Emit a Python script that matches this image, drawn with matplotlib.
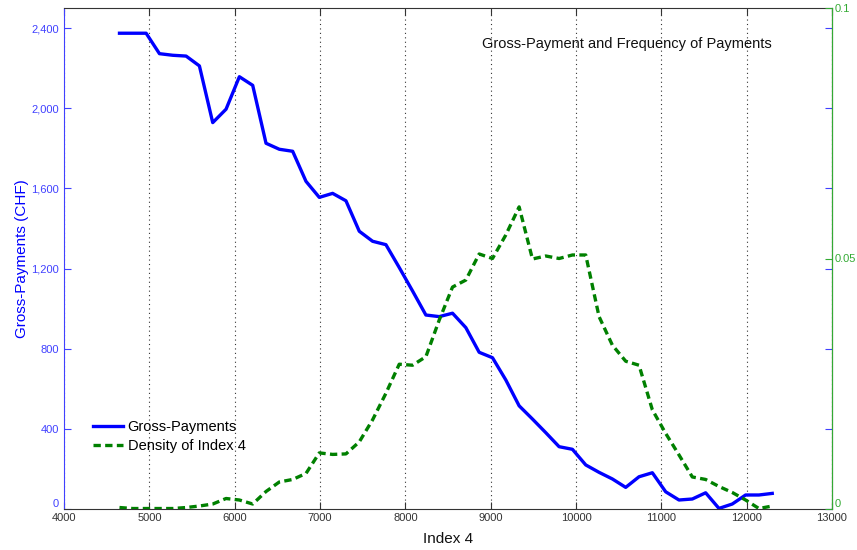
import numpy as np
import matplotlib.pyplot as plt
from matplotlib.ticker import FuncFormatter

# Index 4 values (x), 50 points
index4 = np.linspace(4650, 12300, 50)

gross_payments = [2374, 2374, 2374, 2272, 2264, 2260, 2211, 1928, 1995, 2157,
                  2114, 1825, 1795, 1785, 1635, 1555, 1575, 1538, 1386, 1336,
                  1319, 1205, 1088, 968, 960, 977, 905, 782, 755, 644,
                  515, 449, 381, 311, 298, 220, 183, 150, 108, 161,
                  181, 86, 45, 50, 81, 3, 25, 70, 70, 78]

density = [0.0003, 0.0001, 0.0001, 0.0001, 0.0001, 0.0003, 0.0006, 0.0010, 0.0021, 0.0018,
           0.0010, 0.0035, 0.0054, 0.0059, 0.0071, 0.0112, 0.0109, 0.0110, 0.0134, 0.0178,
           0.0231, 0.0289, 0.0287, 0.0304, 0.0377, 0.0443, 0.0457, 0.0509, 0.0500, 0.0547,
           0.0603, 0.0499, 0.0505, 0.0500, 0.0507, 0.0507, 0.0384, 0.0327, 0.0295, 0.0287,
           0.0198, 0.0151, 0.0108, 0.0064, 0.0059, 0.0045, 0.0033, 0.0018, 0.0001, 0.0006]

x_ticks = np.arange(4000, 13001, 1000)
left_ticks = np.arange(0, 2401, 400)
right_ticks = [0, 0.05, 0.1]

plt.rcParams['font.family'] = ['Liberation Sans', 'DejaVu Sans']

blue = '#0000ff'
green = '#008000'
axis_blue = '#4040ff'
axis_green = '#33aa33'

fig = plt.figure(figsize=(8.57, 5.5), dpi=100)
ax = fig.add_axes([0.0747, 0.0745, 0.8961, 0.911])
ax2 = ax.twinx()

l1, = ax.plot(index4, gross_payments, color=blue, lw=2.4, label='Gross-Payments')
l2, = ax2.plot(index4, density, color=green, lw=2.4, ls=(0, (2.2, 1.3)), label='Density of Index 4')

ax.set_xlim(4000, 13000)
ax.set_ylim(0, 2500)
ax2.set_ylim(0, 0.1)

ax.set_xticks(x_ticks)
ax.set_yticks(left_ticks)
ax2.set_yticks(right_ticks)
ax.yaxis.set_major_formatter(FuncFormatter(lambda v, p: f'{int(v):,}'))
ax2.yaxis.set_major_formatter(FuncFormatter(lambda v, p: '0' if v == 0 else f'{v:g}'))

ax.xaxis.grid(True, linestyle=(0, (1, 3)), color='#333333', lw=0.8)
ax.set_axisbelow(True)

ax.tick_params(axis='x', direction='in', length=5, colors='#333333', labelsize=8,
               top=True, pad=3)
ax.tick_params(axis='y', direction='in', length=5, color=axis_blue, labelcolor=axis_blue,
               labelsize=8, right=True)
ax2.tick_params(axis='y', direction='in', length=5, color=axis_green, labelcolor=axis_green,
                labelsize=8, pad=2)

# the zero labels sit just above the x tick labels, as in the original
fig.canvas.draw()
ax.get_yticklabels()[0].set_va('bottom')
ax2.get_yticklabels()[0].set_va('bottom')

ax.spines['left'].set_color(axis_blue)
ax.spines['top'].set_color('#333333')
ax.spines['bottom'].set_color('#333333')
ax2.spines['right'].set_color(axis_green)
ax2.spines['left'].set_visible(False)
ax2.spines['top'].set_visible(False)
ax2.spines['bottom'].set_visible(False)

ax.set_xlabel('Index 4', fontsize=11, color='#111111', labelpad=6)
ax.set_ylabel('Gross-Payments (CHF)', fontsize=11, color=blue, labelpad=2)

ax.text(0.922, 0.928, 'Gross-Payment and Frequency of Payments', transform=ax.transAxes,
        ha='right', va='center', fontsize=10.5, color='#111111')

ax.legend([l1, l2], ['Gross-Payments', 'Density of Index 4'], loc='lower left',
          bbox_to_anchor=(0.02, 0.085), frameon=False, fontsize=10.5,
          handlelength=2.1, handletextpad=0.3, labelspacing=0.35)

fig.savefig('out.png', dpi=100)
